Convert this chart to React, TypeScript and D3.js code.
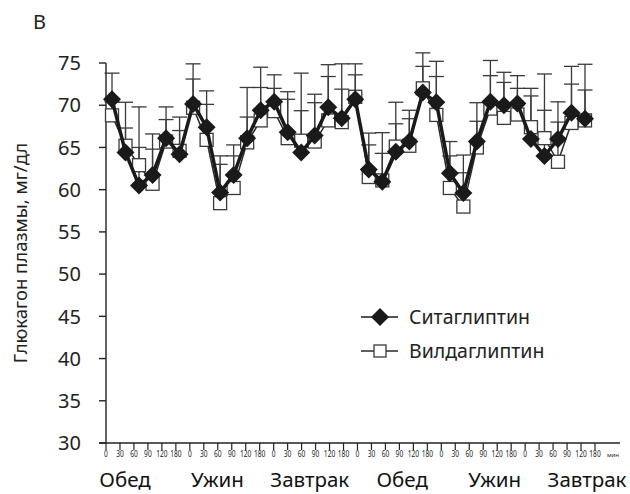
import * as d3 from "d3";

const minutes = ["0", "30", "60", "90", "120", "180"];
const meals = ["Обед", "Ужин", "Завтрак", "Обед", "Ужин", "Завтрак"];
const seriesNames = ["Ситаглиптин", "Вилдаглиптин"];
const yTicks = [30, 35, 40, 45, 50, 55, 60, 65, 70, 75];

// mean plasma glucagon, mg/dl
const sitagliptin = [
  70.7, 64.4, 60.5, 61.75, 66.1, 64.2, 70.15, 67.4, 59.65, 61.75, 66.1, 69.4,
  70.4, 66.8, 64.4, 66.4, 69.75, 68.45, 70.7, 62.4, 60.95, 64.5, 65.7, 71.5,
  70.35, 61.95, 59.6, 65.7, 70.4, 70.0, 70.2, 66.0, 64.0, 66.0, 69.1, 68.4,
];
const vildagliptin = [
  68.8, 65.2, 62.9, 60.7, 65.7, 64.6, 69.7, 65.9, 58.4, 60.2, 65.6, 68.2,
  69.3, 66.1, 65.8, 65.7, 68.2, 68.0, 71.0, 61.5, 61.1, 65.1, 65.2, 72.0,
  68.85, 60.2, 58.0, 65.0, 69.6, 68.5, 68.9, 67.4, 66.1, 63.3, 67.9, 68.2,
];
// upper end of error bars
const sitagliptinErr = [
  73.8, 70.35, 69.8, 66.6, 69.8, 68.6, 73.1, 71.7, 64.0, 65.3, 72.1, 74.5,
  73.6, 71.6, 73.8, 71.3, 74.8, 74.9, 73.6, 66.7, 66.75, 70.35, 69.4, 74.6,
  73.4, 65.7, 64.1, 70.3, 73.5, 73.9, 73.5, 72.0, 73.7, 70.4, 74.6, 74.85,
];
const vildagliptinErr = [
  70.4, 67.3, 65.0, 64.8, 68.3, 67.0, 74.9, 70.1, 63.0, 64.0, 68.6, 72.1,
  72.0, 70.7, 69.35, 70.3, 73.4, 71.9, 74.9, 65.3, 64.3, 67.8, 68.4, 76.2,
  75.2, 64.0, 62.0, 68.1, 75.3, 72.7, 72.0, 71.1, 69.4, 68.0, 72.5, 71.8,
];

const FONT = "'Noto Sans', 'DejaVu Sans', sans-serif";
const W = 630;
const H = 494;

export default function App() {
  const n = sitagliptin.length;
  const idx = d3.range(n);
  const y = d3.scaleLinear().domain([30, 75]).range([443, 63]);
  const xTick = d3.scaleLinear().domain([0, n - 1]).range([106, 595]);
  const xPt = d3.scaleLinear().domain([0, n - 1]).range([112, 585]);
  const xMeal = d3
    .scalePoint<number>()
    .domain(d3.range(meals.length))
    .range([125, 587]);

  const line = d3
    .line<number>()
    .x((_, i) => xPt(i))
    .y((d) => y(d));

  const diamond = (cx: number, cy: number, r: number) =>
    `M${cx},${cy - r}L${cx + r},${cy}L${cx},${cy + r}L${cx - r},${cy}Z`;

  const errColor = "#3a3a3a";
  const capHalf = 7.5;

  const errBars = (vals: number[], tops: number[], key: string) =>
    vals.map((v, i) => (
      <g key={key + i} stroke={errColor} strokeWidth={1.3}>
        <line x1={xPt(i)} x2={xPt(i)} y1={y(v)} y2={y(tops[i])} />
        <line
          x1={xPt(i) - capHalf}
          x2={xPt(i) + capHalf}
          y1={y(tops[i])}
          y2={y(tops[i])}
        />
      </g>
    ));

  return (
    <svg
      width={W}
      height={H}
      style={{ position: "absolute", left: 0, top: 0, background: "#fff" }}
      fontFamily={FONT}
    >
      <text x={33} y={29} fontSize={20} fill="#222">
        B
      </text>

      {/* y axis */}
      <line x1={106} x2={106} y1={y(75)} y2={y(30)} stroke="#222" strokeWidth={1.4} />
      {yTicks.map((t) => (
        <g key={t}>
          <line x1={99} x2={106} y1={y(t)} y2={y(t)} stroke="#222" strokeWidth={1.4} />
          <text
            x={81}
            y={y(t)}
            dy="0.36em"
            textAnchor="end"
            fontSize={20}
            fill="#222"
          >
            {t}
          </text>
        </g>
      ))}
      <text
        transform={`translate(27,${(y(75) + y(30)) / 2}) rotate(-90)`}
        textAnchor="middle"
        fontSize={18.5}
        fill="#222"
      >
        Глюкагон плазмы, мг/дл
      </text>

      {/* x axis */}
      <line x1={99} x2={620} y1={y(30)} y2={y(30)} stroke="#222" strokeWidth={1.4} />
      {idx.map((i) => (
        <g key={"xt" + i}>
          <line
            x1={xTick(i)}
            x2={xTick(i)}
            y1={y(30)}
            y2={y(30) + 7}
            stroke="#222"
            strokeWidth={1.2}
          />
          <text
            transform={`translate(${xTick(i)},457) scale(0.78,1)`}
            textAnchor="middle"
            fontSize={8.5}
            fill="#222"
          >
            {minutes[i % minutes.length]}
          </text>
        </g>
      ))}
      <text x={607} y={457} fontSize={6} fill="#222">
        мин
      </text>
      {meals.map((m, k) => (
        <text
          key={"m" + k}
          x={xMeal(k)}
          y={487}
          textAnchor="middle"
          fontSize={20.5}
          fill="#111"
        >
          {m}
        </text>
      ))}

      {/* error bars */}
      {errBars(vildagliptin, vildagliptinErr, "ev")}
      {errBars(sitagliptin, sitagliptinErr, "es")}

      {/* vildagliptin */}
      <path d={line(vildagliptin) ?? ""} fill="none" stroke="#2a2a2a" strokeWidth={1.5} />
      {vildagliptin.map((v, i) => (
        <rect
          key={"v" + i}
          x={xPt(i) - 6.5}
          y={y(v) - 6.5}
          width={13}
          height={13}
          fill="#fff"
          stroke="#3a3a3a"
          strokeWidth={1.3}
        />
      ))}

      {/* sitagliptin */}
      <path d={line(sitagliptin) ?? ""} fill="none" stroke="#1a1a1a" strokeWidth={3.5} />
      {sitagliptin.map((v, i) => (
        <path key={"s" + i} d={diamond(xPt(i), y(v), 9)} fill="#1a1a1a" />
      ))}

      {/* legend */}
      <g>
        <line x1={361} x2={398} y1={317} y2={317} stroke="#1a1a1a" strokeWidth={1.5} />
        <path d={diamond(380, 317, 9)} fill="#1a1a1a" />
        <text x={409} y={317} dy="0.36em" fontSize={19.5} fill="#222">
          {seriesNames[0]}
        </text>
        <line x1={361} x2={398} y1={351} y2={351} stroke="#2a2a2a" strokeWidth={1.3} />
        <rect x={374} y={345} width={12} height={12} fill="#fff" stroke="#3a3a3a" strokeWidth={1.3} />
        <text x={409} y={351} dy="0.36em" fontSize={19.5} fill="#222">
          {seriesNames[1]}
        </text>
      </g>
    </svg>
  );
}
